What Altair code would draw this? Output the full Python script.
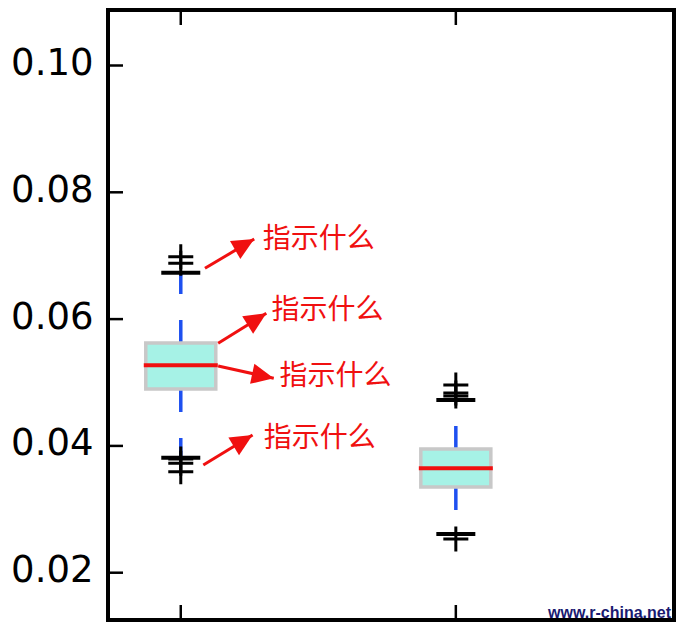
import altair as alt
import pandas as pd

# ---- data ----
positions = [1, 2]
q1 = [0.04897, 0.03352]
median = [0.05271, 0.03647]
q3 = [0.05623, 0.03951]
whisk_lo = [0.03814, 0.02610]
whisk_hi = [0.06732, 0.04724]

flier_pos = [1, 1, 1, 1, 1, 2, 2, 2, 2]
flier_val = [0.06984, 0.06880, 0.03793, 0.03726, 0.03593,
             0.04960, 0.04834, 0.04787, 0.02531]

y_ticks = [0.02, 0.04, 0.06, 0.08, 0.10]

note_text = ["指示什么", "指示什么", "指示什么", "指示什么"]
note_x = [1.298, 1.330, 1.359, 1.302]
note_y = [0.07240, 0.06120, 0.05091, 0.04109]
arrow_start_x = [1.088, 1.136, 1.136, 1.082]
arrow_start_y = [0.06801, 0.05618, 0.05260, 0.03699]
arrow_tip_x = [1.267, 1.311, 1.338, 1.261]
arrow_tip_y = [0.07263, 0.06091, 0.05066, 0.04172]
arrow_angle = [60, 58, 102, 59]

watermark = ["www.r-china.net"]

W, H = 566, 610

boxes = pd.DataFrame({"pos": positions, "q1": q1, "med": median, "q3": q3,
                      "lo": whisk_lo, "hi": whisk_hi})
fliers = pd.DataFrame({"pos": flier_pos, "val": flier_val})
notes = pd.DataFrame({"text": note_text, "nx": note_x, "ny": note_y,
                      "sx": arrow_start_x, "sy": arrow_start_y,
                      "tx": arrow_tip_x, "ty": arrow_tip_y, "ang": arrow_angle})
yt = pd.DataFrame({"t": y_ticks})
xt = pd.DataFrame({"p": positions})
wm = pd.DataFrame({"t": watermark})

xscale = alt.Scale(domain=[0.7536, 2.775], nice=False, zero=False)
yscale = alt.Scale(domain=[0.012541, 0.108754], nice=False, zero=False)

yaxis = alt.Axis(values=y_ticks, format=".2f", labelFontSize=37, labelFont="DejaVu Sans",
                 labelColor="black", ticks=False, tickSize=0, domain=False, grid=False,
                 labelPadding=15, title=None, labelOffset=-2)
xaxis = None


def X(f):
    return alt.X(f, scale=xscale, axis=xaxis)


def Y(f):
    return alt.Y(f, scale=yscale, axis=yaxis)


base = alt.Chart(boxes)

whisk_up = base.mark_rule(color="#1e50f0", strokeWidth=3.5, strokeDash=[23, 26]).encode(
    x=X("pos:Q"), y=Y("q3:Q"), y2="hi:Q",
)
whisk_dn = base.mark_rule(color="#1e50f0", strokeWidth=3.5, strokeDash=[23, 26]).encode(
    x=X("pos:Q"), y=Y("q1:Q"), y2="lo:Q",
)
cap_hi = base.mark_tick(color="black", orient="horizontal", size=39, thickness=4,
                        opacity=1).encode(x=X("pos:Q"), y=Y("hi:Q"))
cap_lo = base.mark_tick(color="black", orient="horizontal", size=39, thickness=4,
                        opacity=1).encode(x=X("pos:Q"), y=Y("lo:Q"))
flier_layer = alt.Chart(fliers).mark_point(
    shape="M-1,0L1,0M0,-1L0,1", size=625, filled=False, color="black",
    strokeWidth=3, opacity=1
).encode(x=X("pos:Q"), y=Y("val:Q"))
box_layer = base.mark_bar(size=70, color="#a6f2e6", stroke="#c8c8c8", strokeWidth=3.5,
                          opacity=1).encode(x=X("pos:Q"), y=Y("q1:Q"), y2="q3:Q")
med_layer = base.mark_tick(color="#f01010", orient="horizontal", size=74, thickness=4,
                           opacity=1).encode(x=X("pos:Q"), y=Y("med:Q"))

nb = alt.Chart(notes)
arrow_line = nb.mark_rule(color="#f01010", strokeWidth=3).encode(
    x=X("sx:Q"), y=Y("sy:Q"), x2="tx:Q", y2="ty:Q",
)
arrow_head = nb.mark_point(shape="M0,0L0.75,1.6L-0.75,1.6Z", size=756, filled=True,
                           color="#f01010", opacity=1).encode(
    x=X("tx:Q"), y=Y("ty:Q"), angle=alt.Angle("ang:Q", scale=None),
)
note_layer = nb.mark_text(color="#f01010", font="Noto Sans CJK SC", fontSize=28,
                          align="left", baseline="middle").encode(
    x=X("nx:Q"), y=Y("ny:Q"), text="text:N",
)

ytick_layer = alt.Chart(yt).mark_rule(color="black", strokeWidth=2.5).encode(
    x=alt.value(0), x2=alt.value(15), y=Y("t:Q"),
)
xtick_bot = alt.Chart(xt).mark_rule(color="black", strokeWidth=2.5).encode(
    x=X("p:Q"), y=alt.value(H), y2=alt.value(H - 15),
)
xtick_top = alt.Chart(xt).mark_rule(color="black", strokeWidth=2.5).encode(
    x=X("p:Q"), y=alt.value(0), y2=alt.value(15),
)
wm_layer = alt.Chart(wm).mark_text(font="Liberation Sans", fontWeight="bold", fontSize=16,
                                   color="#1a1a70", align="right",
                                   baseline="alphabetic").encode(
    x=alt.value(W - 3), y=alt.value(H - 2), text="t:N",
)

chart = alt.layer(
    whisk_up, whisk_dn, cap_hi, cap_lo, flier_layer, box_layer, med_layer,
    arrow_line, arrow_head, note_layer, ytick_layer, xtick_bot, xtick_top, wm_layer,
).properties(
    width=W, height=H,
    autosize=alt.AutoSizeParams(type="none"),
    padding={"left": 100, "top": 2, "right": 2, "bottom": 3},
    background="white",
).configure_view(stroke="black", strokeWidth=4, fill="white")

chart.save("out.html", embed_options={"renderer": "svg", "actions": False})
